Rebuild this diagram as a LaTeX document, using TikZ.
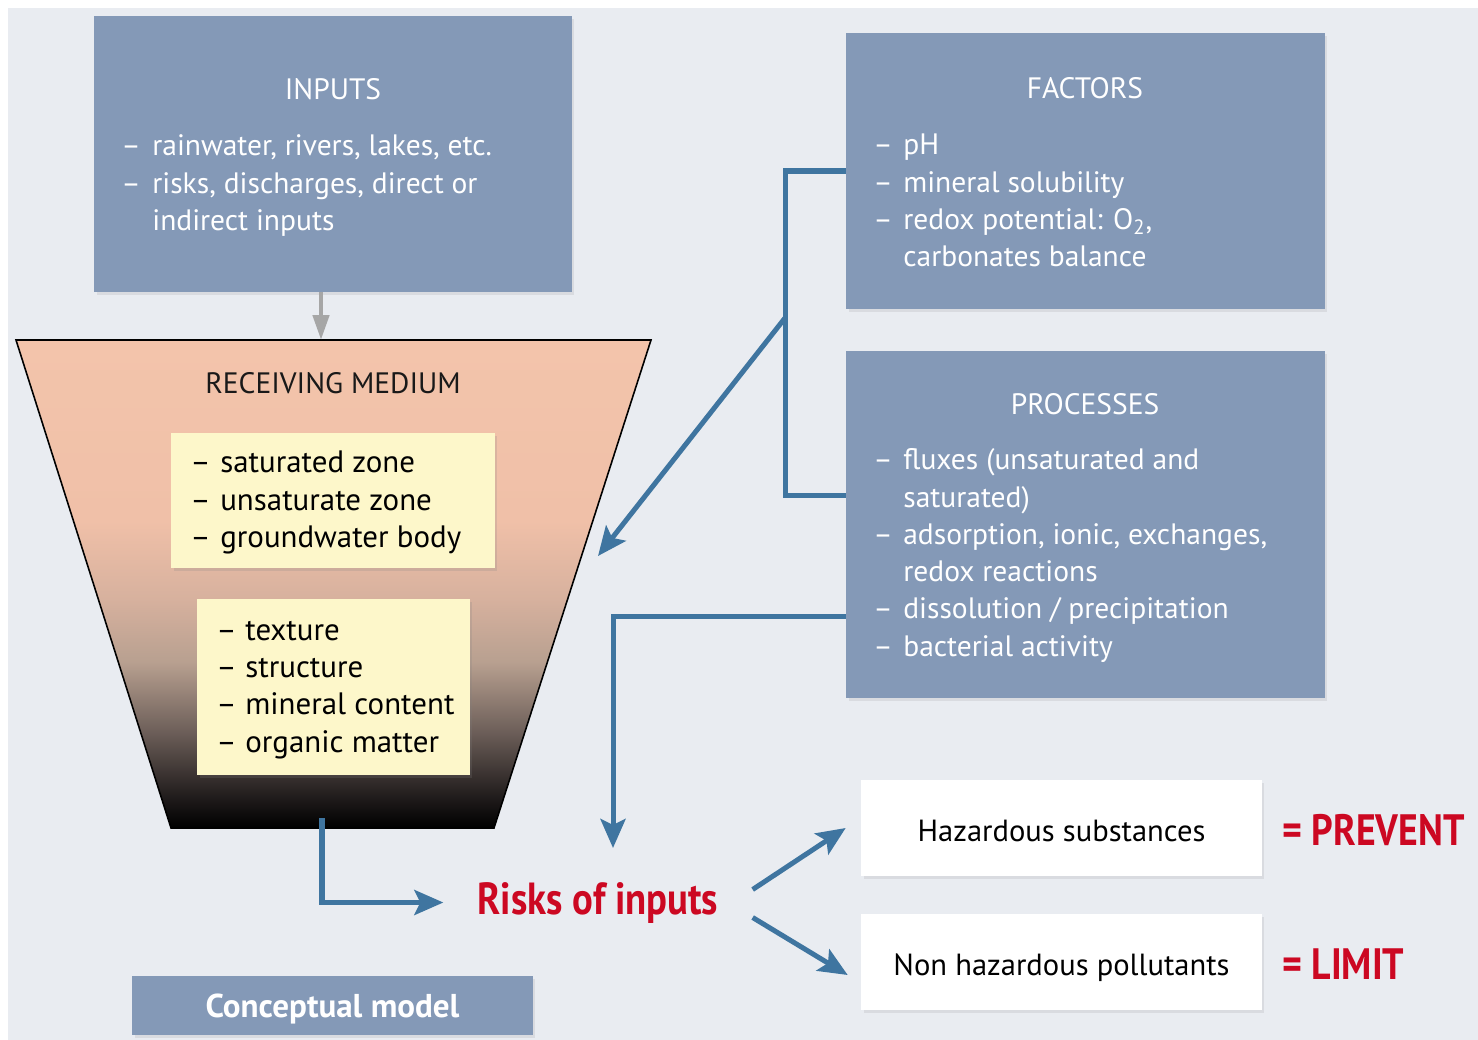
\documentclass[tikz,border=0pt]{standalone}
\usepackage{fontspec}
\setmainfont{PT Sans}
\newfontfamily\narrowfont{PT Sans}[FakeStretch=0.86]
\usetikzlibrary{arrows.meta,shadows,positioning}

\definecolor{bgcol}{RGB}{233,236,241}
\definecolor{boxblue}{RGB}{132,153,183}
\definecolor{linkblue}{RGB}{63,117,160}
\definecolor{riskred}{RGB}{204,8,34}
\definecolor{notepale}{RGB}{253,247,202}
\definecolor{salmon}{RGB}{243,196,171}
\definecolor{medA}{RGB}{30,26,26}
\definecolor{medB}{RGB}{110,96,90}
\definecolor{medC}{RGB}{184,160,144}
\definecolor{medD}{RGB}{215,177,158}
\definecolor{medE}{RGB}{240,192,168}

\pgfdeclareverticalshading{mediumfill}{100bp}{color(0bp)=(black); color(25bp)=(black); color(28bp)=(medA); color(35bp)=(medB); color(42bp)=(medC); color(48.5bp)=(medD); color(56.5bp)=(medE); color(75bp)=(salmon); color(100bp)=(salmon)}

\tikzset{
  panel/.style={shape=rectangle, fill=boxblue, draw=none, drop shadow={opacity=0.15, shadow xshift=0.05cm, shadow yshift=-0.06cm}},
  note/.style={shape=rectangle, fill=notepale, draw=none, drop shadow={opacity=0.2, shadow xshift=0.05cm, shadow yshift=-0.06cm}},
  result/.style={shape=rectangle, fill=white, draw=none, drop shadow={opacity=0.15, shadow xshift=0.05cm, shadow yshift=-0.06cm}, text height=18pt, text depth=2.6pt, font=\fontsize{17.4}{21}\selectfont},
  title/.style={anchor=base, inner sep=0pt, font=\fontsize{16.8}{21}\selectfont},
  listtext/.style={anchor=base west, inner sep=0pt, font=\fontsize{16.8}{21.2}\selectfont},
  notetext/.style={anchor=base west, inner sep=0pt, font=\fontsize{17.6}{21.3}\selectfont},
  redlabel/.style={inner sep=0pt, text=riskred, font=\narrowfont\bfseries\fontsize{25}{28}\selectfont},
  link/.style={draw=linkblue, line width=2.85pt, -{Stealth[length=0.58cm,width=0.5cm,inset=0.12cm]}},
  bracket/.style={draw=linkblue, line width=2.85pt},
  graylink/.style={draw=black!35, line width=2.6pt, -{Triangle[length=0.5cm,width=0.32cm]}}
}

\begin{document}
\begin{tikzpicture}[x=0.02cm, y=-0.02cm]
%%%%%%%%%%%%%%%%%%%%%%%%%%%%%%%%%%%%%%%%%%% HELP LINES
%\draw[help lines] (0,0) grid (1478,1040);
\useasboundingbox (0,0) rectangle (1478,1040);
\fill[bgcol] (8,8) rectangle (1478,1040);

%%%%%%%%%%%%%%%%%%%%%%%%%%%%%%%%%%%%%%%%%%% blue panels
\node[panel, minimum width=9.56cm, minimum height=5.52cm] (inputs) at (333,154) {};
\node[panel, minimum width=9.58cm, minimum height=5.52cm] (factors) at (1085.5,171) {};
\node[panel, minimum width=9.58cm, minimum height=6.94cm] (processes) at (1085.5,524.5) {};

\node[title, text=white] (inputstitle) at (333,100) {INPUTS};
\node[listtext, text=white] (inputslist) at (121,156) {\begin{tabular}[t]{@{}p{0.62cm}@{}l@{}}
–&rainwater, rivers, lakes, etc.\\
–&risks, discharges, direct or\\
&indirect inputs\end{tabular}};

\node[title, text=white] (factorstitle) at (1085,99) {FACTORS};
\node[listtext, text=white] (factorslist) at (873,155) {\begin{tabular}[t]{@{}p{0.6cm}@{}l@{}}
–&pH\\
–&mineral solubility\\
–&redox potential: O\textsubscript{2},\\
&carbonates balance\end{tabular}};

\node[title, text=white] (processestitle) at (1085,415) {PROCESSES};
\node[listtext, text=white] (processeslist) at (873,470) {\begin{tabular}[t]{@{}p{0.6cm}@{}l@{}}
–&fluxes (unsaturated and\\
&saturated)\\
–&adsorption, ionic, exchanges,\\
&redox reactions\\
–&dissolution / precipitation\\
–&bacterial activity\end{tabular}};

%%%%%%%%%%%%%%%%%%%%%%%%%%%%%%%%%%%%%%%%%%% receiving medium
\draw[line width=0.9pt, shading=mediumfill] (16,340) -- (651,340) -- (494,828) -- (171,828) -- cycle;
\coordinate (mediumtop) at (321,340);
\coordinate (mediumin) at (598,556);
\coordinate (mediumout) at (322,818);
\node[title, text=black!90] (mediumtitle) at (333,394) {RECEIVING MEDIUM};

\node[note, minimum width=6.48cm, minimum height=2.7cm] (zones) at (333,500.5) {};
\node[note, minimum width=5.46cm, minimum height=3.52cm] (soil) at (333.5,687) {};
\node[notetext] (zoneslist) at (190,473) {\begin{tabular}[t]{@{}p{0.6cm}@{}l@{}}
–&saturated zone\\
–&unsaturate zone\\
–&groundwater body\end{tabular}};
\node[notetext] (soillist) at (216,640) {\begin{tabular}[t]{@{}p{0.58cm}@{}l@{}}
–&texture\\
–&structure\\
–&mineral content\\
–&organic matter\end{tabular}};

%%%%%%%%%%%%%%%%%%%%%%%%%%%%%%%%%%%%%%%%%%% risks and results
\node[redlabel, anchor=base, font=\narrowfont\bfseries\fontsize{25.6}{28}\selectfont] (risks) at (598,914) {Risks of inputs};
\coordinate (riskstop) at (613,848);

\node[result, minimum width=8.02cm, minimum height=1.92cm] (hazard) at (1061.5,828) {Hazardous substances};
\node[result, minimum width=8.02cm, minimum height=1.92cm] (nonhaz) at (1061.5,962) {Non hazardous pollutants};
\node[redlabel, anchor=base west] (prevent) at (1282,845) {= PREVENT};
\node[redlabel, anchor=base west] (limit) at (1282,979) {= LIMIT};

\node[panel, minimum width=8.02cm, minimum height=1.18cm, text=white, text height=16pt, text depth=1.8pt, font=\bfseries\fontsize{18.8}{21}\selectfont] (model) at (332.5,1005.5) {Conceptual model};

%%%%%%%%%%%%%%%%%%%%%%%%%%%%%%%%%%%%%%%%%%% connectors
\draw[graylink] (inputs.south -| mediumtop) -- (mediumtop);
\coordinate (fork) at (785,318);
\draw[bracket] (factors.west) -| (fork) |- ([yshift=0.59cm]processes.west);
\draw[link] (fork) -- (mediumin);
\draw[link] ([yshift=-1.85cm]processes.west) -| (riskstop);
\draw[link] (mediumout) |- ([xshift=-0.68cm]risks.west);
\draw[link] ([xshift=0.68cm,yshift=0.26cm]risks.east) -- ([xshift=-0.3cm]hazard.west);
\draw[link] ([xshift=0.68cm,yshift=-0.3cm]risks.east) -- ([xshift=-0.26cm,yshift=-0.26cm]nonhaz.west);
\end{tikzpicture}
\end{document}
